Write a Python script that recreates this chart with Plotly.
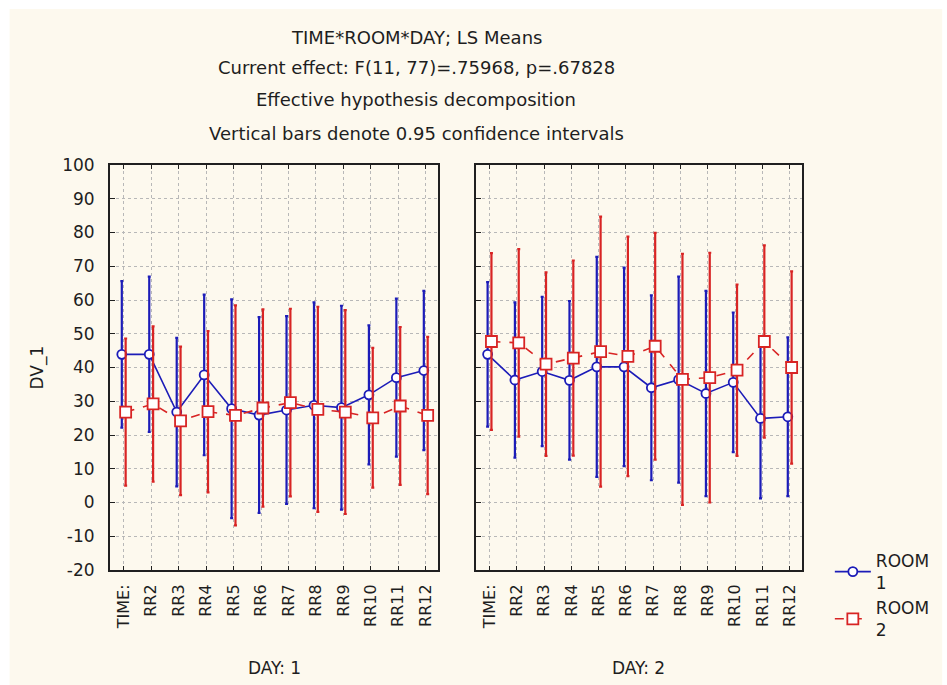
import plotly.graph_objects as go

# Repeated-measures LS means: TIME x ROOM x DAY, with 0.95 confidence half-widths
time_labels = ["TIME:", "RR2", "RR3", "RR4", "RR5", "RR6", "RR7", "RR8", "RR9", "RR10", "RR11", "RR12"]

day1_room1_mean = [43.9, 43.9, 26.8, 37.8, 27.8, 25.9, 27.4, 28.8, 28.1, 31.9, 37.0, 39.1]
day1_room1_ci = [21.7, 23.0, 22.0, 23.8, 32.4, 29.0, 27.8, 30.5, 30.2, 20.6, 23.4, 23.6]
day1_room2_mean = [26.8, 29.2, 24.2, 26.9, 25.8, 28.0, 29.6, 27.6, 26.8, 25.1, 28.6, 25.8]
day1_room2_ci = [21.8, 23.0, 22.0, 23.9, 32.6, 29.2, 27.8, 30.4, 30.2, 20.7, 23.4, 23.3]

day2_room1_mean = [43.9, 36.3, 38.8, 36.2, 40.2, 40.2, 34.0, 36.4, 32.3, 35.6, 24.9, 25.4]
day2_room1_ci = [21.4, 23.0, 22.1, 23.5, 32.6, 29.4, 27.4, 30.5, 30.4, 20.7, 23.7, 23.5]
day2_room2_mean = [47.7, 47.3, 41.0, 42.8, 44.7, 43.3, 46.3, 36.5, 37.0, 39.2, 47.7, 40.0]
day2_room2_ci = [26.2, 27.8, 27.2, 28.9, 40.0, 35.5, 33.6, 37.2, 37.0, 25.4, 28.5, 28.5]

y_ticks = list(range(-20, 101, 10))
y_tick_labels = [str(v) for v in y_ticks]  # plain hyphen for negatives

BLUE = "#1c1cb8"
RED = "#d82424"
TEXT = "#1e1e1e"
FONT = "DejaVu Sans"
CREAM = "#fdf9ee"

offset = 0.07
positions = list(range(len(time_labels)))

fig = go.Figure()


def add_room(means, ci, dx, color, symbol, size, dash, name, xaxis, show):
    fig.add_trace(go.Scatter(
        x=[p + dx for p in positions],
        y=means,
        mode="lines+markers",
        name=name,
        legendgroup=name,
        showlegend=show,
        xaxis=xaxis,
        yaxis="y" if xaxis == "x" else "y2",
        line=dict(color=color, width=1.6, dash=dash),
        marker=dict(symbol=symbol, size=size, color="white",
                    line=dict(color=color, width=1.8)),
        error_y=dict(type="data", array=ci, visible=True, color=color,
                     thickness=2.2, width=1.5),
    ))


add_room(day1_room1_mean, day1_room1_ci, -offset, BLUE, "circle", 9, "solid", "ROOM<br>1", "x", True)
add_room(day1_room2_mean, day1_room2_ci, offset, RED, "square", 11, "dash", "ROOM<br>2", "x", True)
add_room(day2_room1_mean, day2_room1_ci, -offset, BLUE, "circle", 9, "solid", "ROOM<br>1", "x2", False)
add_room(day2_room2_mean, day2_room2_ci, offset, RED, "square", 11, "dash", "ROOM<br>2", "x2", False)

xaxis_common = dict(
    range=[-0.5, 11.45],
    tickmode="array",
    tickvals=positions,
    ticktext=time_labels,
    tickangle=-90,
    ticks="inside",
    ticklen=4,
    tickcolor="#202020",
    showline=True,
    linecolor="#202020",
    linewidth=2,
    mirror="ticks",
    showgrid=True,
    gridcolor="#b8b8b8",
    griddash="dot",
    gridwidth=1,
    zeroline=False,
    tickfont=dict(family=FONT, size=16, color=TEXT),
    ticklabelstandoff=6,
)

yaxis_common = dict(
    range=[-20, 100],
    tickmode="array",
    tickvals=y_ticks,
    ticktext=y_tick_labels,
    ticks="inside",
    ticklen=5,
    tickcolor="#202020",
    showline=True,
    linecolor="#202020",
    linewidth=2,
    mirror=True,
    showgrid=True,
    gridcolor="#b8b8b8",
    griddash="dot",
    gridwidth=1,
    zeroline=False,
    tickfont=dict(family=FONT, size=17, color=TEXT),
)

L, R, T, B = 110, 141, 165, 115
W, H = 947, 685
pw, ph = W - L - R, H - T - B


def px_x(x):
    return (x - L) / pw


def px_y(y):
    return (H - B - y) / ph


fig.update_layout(
    width=W,
    height=H,
    margin=dict(l=L, r=R, t=T, b=B),
    paper_bgcolor="white",
    plot_bgcolor="white",
    font=dict(family=FONT, color=TEXT, size=16),
    xaxis=dict(domain=[0, px_x(440)], anchor="y", **xaxis_common),
    xaxis2=dict(domain=[px_x(478), 1], anchor="y2", **xaxis_common),
    yaxis=dict(anchor="x", ticklabelstandoff=10, **yaxis_common),
    yaxis2=dict(anchor="x2", showticklabels=False, **yaxis_common),
    legend=dict(
        x=px_x(834), y=px_y(543), xanchor="left", yanchor="top",
        bgcolor="rgba(0,0,0,0)",
        font=dict(family=FONT, size=17, color=TEXT),
        itemwidth=36,
        tracegroupgap=0,
    ),
    showlegend=True,
)

# cream page panel behind the plotting areas
fig.add_shape(type="rect", xref="paper", yref="paper", layer="below",
              x0=px_x(9), x1=px_x(W), y0=px_y(H), y1=px_y(9),
              fillcolor=CREAM, line=dict(width=0))

title_lines = [
    ("TIME*ROOM*DAY; LS Means", 37),
    ("Current effect: F(11, 77)=.75968, p=.67828", 68),
    ("Effective hypothesis decomposition", 100),
    ("Vertical bars denote 0.95 confidence intervals", 133),
]
for text, ypix in title_lines:
    fig.add_annotation(text=text, xref="paper", yref="paper",
                       x=px_x(418), y=px_y(ypix), xanchor="center", yanchor="middle",
                       showarrow=False, font=dict(family=FONT, size=18, color=TEXT))

fig.add_annotation(text="DV_1", xref="paper", yref="paper",
                   x=px_x(37), y=px_y(367), xanchor="center", yanchor="middle",
                   textangle=-90, showarrow=False,
                   font=dict(family=FONT, size=17, color=TEXT))
fig.add_annotation(text="DAY: 1", xref="paper", yref="paper",
                   x=px_x(275), y=px_y(668), xanchor="center", yanchor="middle",
                   showarrow=False, font=dict(family=FONT, size=17, color=TEXT))
fig.add_annotation(text="DAY: 2", xref="paper", yref="paper",
                   x=px_x(642), y=px_y(668), xanchor="center", yanchor="middle",
                   showarrow=False, font=dict(family=FONT, size=17, color=TEXT))

fig.write_html("out.html")
